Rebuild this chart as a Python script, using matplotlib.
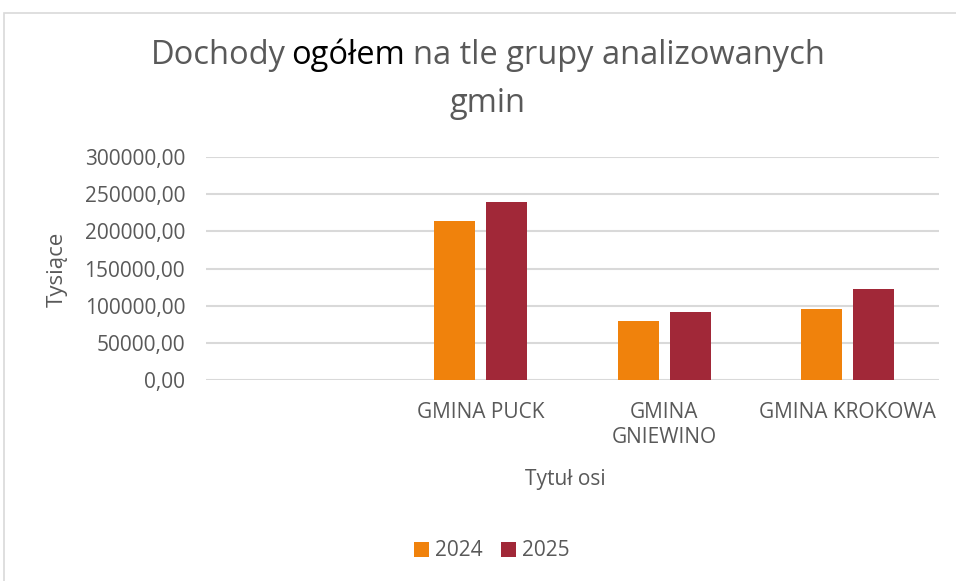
import matplotlib
matplotlib.use("Agg")
import matplotlib.pyplot as plt
from matplotlib.patches import Patch, Rectangle
import numpy as np

plt.rcParams['font.family'] = ['Open Sans', 'DejaVu Sans']

# ---- data ----
categories = ['', 'GMINA PUCK', 'GMINA GNIEWINO', 'GMINA KROKOWA']
tick_labels = ['', 'GMINA PUCK', 'GMINA\nGNIEWINO', 'GMINA KROKOWA']
series_names = ['2024', '2025']
values_2024 = [None, 214000, 79800, 95500]
values_2025 = [None, 239500, 91500, 122400]
y_ticks = [0, 50000, 100000, 150000, 200000, 250000, 300000]
y_tick_labels = ['0,00', '50000,00', '100000,00', '150000,00', '200000,00', '250000,00', '300000,00']

colors = ['#F0820C', '#A12838']
grid_color = '#D9D9D9'
text_color = '#595959'

W, H = 956, 581
fig = plt.figure(figsize=(W / 100, H / 100), dpi=100)

def fx(px):
    return px / W

def fy(py):
    return 1 - py / H

# chart area border
fig.patches.append(Rectangle((fx(4), fy(H + 10)), 1.2, fy(13) - fy(H + 10),
                             transform=fig.transFigure, fill=False,
                             edgecolor=grid_color, linewidth=1.2))

left, right, top, bottom = 206, 939, 157, 380
ax = fig.add_axes([fx(left), fy(bottom), fx(right) - fx(left), fy(top) - fy(bottom)])

x = np.arange(len(categories))
bw = 41 / 183
off = 26 / 183
for vals, c, dx in [(values_2024, colors[0], -off), (values_2025, colors[1], off)]:
    xs = [xi + dx for xi, v in zip(x, vals) if v is not None]
    hs = [v for v in vals if v is not None]
    ax.bar(xs, hs, width=bw, color=c, zorder=3)

ax.set_xlim(-0.5, len(categories) - 0.5)
ax.set_ylim(0, 300000)
ax.set_yticks(y_ticks)
ax.set_yticklabels(y_tick_labels)
ax.set_xticks(x)
ax.set_xticklabels(tick_labels, linespacing=1.25)
ax.tick_params(axis='y', length=0, pad=15, labelsize=15, labelcolor=text_color)
ax.tick_params(axis='x', length=0, pad=16, labelsize=15, labelcolor=text_color)
for s in ax.spines.values():
    s.set_visible(False)
ax.grid(axis='y', color=grid_color, linewidth=1.5, zorder=0)
ax.set_axisbelow(True)

# axis titles
fig.text(fx(57), fy(269), 'Tysiące', rotation=90, ha='center', va='center',
         fontsize=16, color=text_color)
fig.text(fx(565), fy(479), 'Tytuł osi', ha='center', va='center',
         fontsize=15, color=text_color)

# title with a highlighted word
title_size = 23.5
renderer = fig.canvas.get_renderer()

def width_px(s):
    t = fig.text(0, 0, s, fontsize=title_size)
    w = t.get_window_extent(renderer).width
    t.remove()
    return w

space = width_px('x x') - width_px('xx')
w1 = width_px('Dochody') - 4
w2 = width_px('ogółem')
w3 = width_px('na tle grupy analizowanych')
total = w1 + w2 + w3 + 2 * space
x0 = 488 - total / 2
start2 = x0 + w1 + space
start3 = start2 + w2 + space
fig.text(fx(x0), fy(64), 'Dochody', fontsize=title_size, color=text_color,
         ha='left', va='baseline')
fig.text(fx(start2), fy(64), 'ogółem', fontsize=title_size, color='#000000',
         ha='left', va='baseline')
fig.text(fx(start3), fy(64), 'na tle grupy analizowanych', fontsize=title_size,
         color=text_color, ha='left', va='baseline')
fig.text(fx(487), fy(112), 'gmin', fontsize=title_size, color=text_color,
         ha='center', va='baseline')

# legend
handles = [Patch(facecolor=c, edgecolor='none') for c in colors]
fig.legend(handles, series_names, loc='center', bbox_to_anchor=(fx(492), fy(551)),
           ncol=2, frameon=False, fontsize=15, labelcolor=text_color,
           handlelength=0.7, handleheight=0.7, handletextpad=0.3,
           columnspacing=0.9)

fig.savefig('out.png', dpi=100)
